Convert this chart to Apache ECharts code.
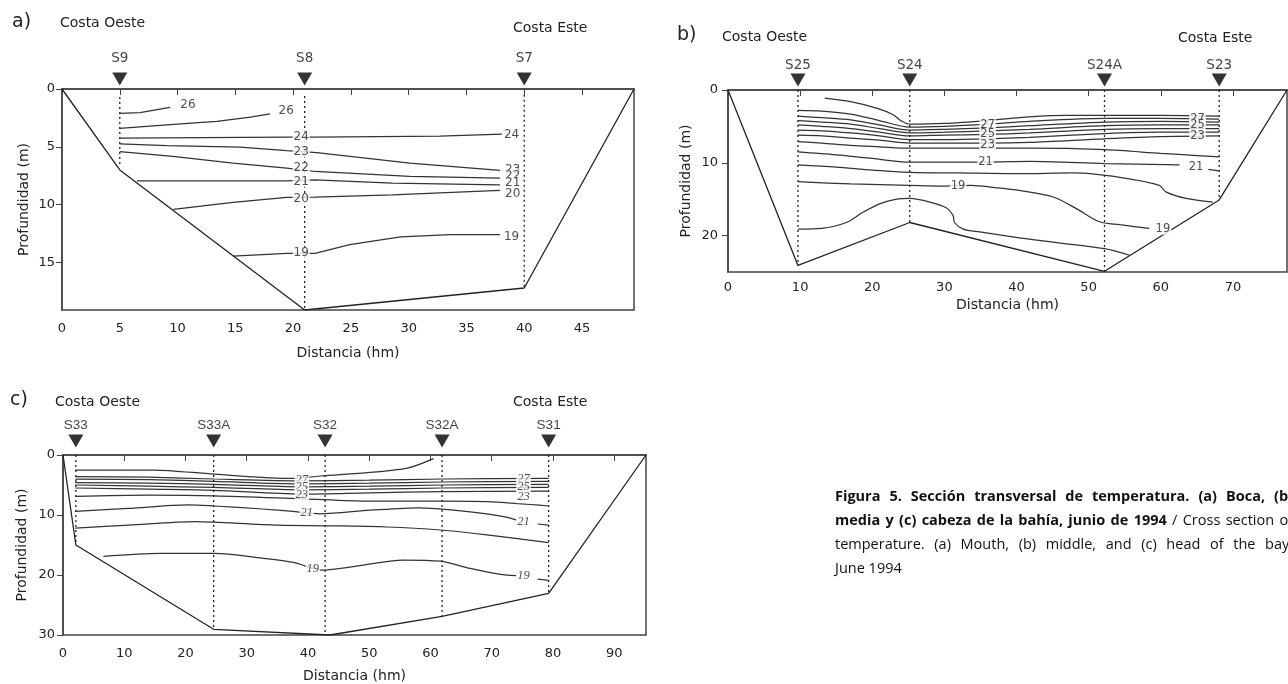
<!DOCTYPE html>
<html><head><meta charset="utf-8">
<script src="https://cdn.jsdelivr.net/npm/echarts@6/dist/echarts.min.js"></script>
<style>html,body{margin:0;padding:0;background:#fff}#c{width:1288px;height:684px}</style>
</head><body><div id="c"></div>
<script>
// ---------- Panel a (Boca) ----------
const aStations = ['S9', 'S8', 'S7'];
const aStationX = [5, 21, 40];
const aStationTop = [0.7, 0.6, 0.5];
const aStationBottom = [6.5, 19.1, 17.2];
const aBottom = [[0,0],[5,7.0],[21,19.1],[40,17.2],[49.5,0]];
const a26a = [[5,2.1],[6.75,2.05],[9.35,1.58]];
const a26b = [[5,3.4],[9.06,3.1],[13.4,2.8],[16.3,2.43],[18.0,2.14]];
const a24 = [[5,4.25],[19.45,4.17],[21.9,4.17],[32.7,4.07],[38.07,3.9]];
const a23 = [[5,4.74],[9.06,4.9],[15.4,5.03],[19.45,5.32],[22.05,5.49],[30.1,6.4],[37.9,7.04]];
const a22 = [[5,5.41],[9.6,5.83],[14.8,6.4],[19.45,6.84],[21.9,7.13],[30.1,7.56],[37.9,7.7]];
const a21 = [[6.47,7.93],[19.45,7.93],[21.9,7.85],[28.6,8.13],[37.9,8.28]];
const a20 = [[9.64,10.4],[14.8,9.8],[19.45,9.37],[21.9,9.34],[28.6,9.14],[37.9,8.77]];
const a19 = [[14.8,14.45],[19.45,14.2],[21.9,14.2],[24.9,13.45],[29.3,12.79],[33.6,12.59],[37.9,12.59]];
const aLabels = [[10.9,1.4,'26'],[19.4,1.85,'26'],[20.7,4.17,'24'],[20.7,5.41,'23'],[20.7,6.84,'22'],[20.7,7.99,'21'],[20.7,9.5,'20'],[20.7,14.17,'19'],
  [38.9,3.96,'24'],[39.0,7.0,'23'],[39.0,7.5,'22'],[39.0,8.1,'21'],[39.0,9.1,'20'],[38.9,12.79,'19']];

// ---------- Panel b (media) ----------
const bStations = ['S25', 'S24', 'S24A', 'S23'];
const bStationX = [9.7, 25.2, 52.2, 68.1];
const bStationBottom = [24.1, 18.2, 24.9, 15.1];
const bBottom = [[0,0],[9.7,24.1],[25.2,18.2],[52.2,24.9],[68.1,15.1],[77.5,0]];
const bTop = [[13.4,1.1],[17,1.6],[20.6,2.5],[22.9,3.4],[24.1,4.3],[25.2,4.7],[30,4.6],[36,4.2],[41.8,3.7],[47,3.5],[52.2,3.5],[60,3.5],[68.1,3.6]];
const b27 = [[9.7,2.8],[13,2.9],[17,3.3],[21,4.2],[25.2,5.1],[30,5.0],[36,4.7],[41.8,4.3],[52.2,3.9],[60,3.9],[68.1,4.0]];
const b26 = [[9.7,3.6],[13,3.8],[17,4.1],[21,4.8],[25.2,5.5],[30,5.4],[36,5.2],[41.8,4.9],[52.2,4.4],[60,4.3],[68.1,4.4]];
const b25 = [[9.7,4.2],[13,4.4],[17,4.7],[21,5.3],[25.2,5.9],[30,5.8],[36,5.6],[41.8,5.4],[52.2,4.9],[60,4.8],[68.1,4.8]];
const b24 = [[9.7,4.8],[13,5.0],[17,5.3],[21,5.8],[25.2,6.3],[30,6.2],[36,6.1],[41.8,5.9],[52.2,5.4],[60,5.3],[68.1,5.3]];
const b23 = [[9.7,5.5],[13,5.6],[17,5.9],[21,6.3],[25.2,6.8],[30,6.8],[36,6.7],[41.8,6.5],[52.2,6.0],[60,5.8],[68.1,5.8]];
const b22a = [[9.7,6.2],[13,6.3],[17,6.6],[21,6.9],[25.2,7.3],[30,7.3],[36,7.3],[41.8,7.2],[52.2,6.7],[60,6.4],[68.1,6.3]];
const b22 = [[9.7,7.1],[13,7.3],[17,7.6],[21,7.8],[25.2,8.0],[30,8.0],[36,8.0],[41.8,8.0],[52.2,8.2],[60,8.7],[65,9.0],[68.1,9.2]];
const b21 = [[9.7,8.5],[15,8.9],[20,9.4],[25.2,9.9],[30,9.9],[36,9.9],[41.8,9.8],[52.2,10.1],[62.6,10.3]];
const b21stub = [[66.6,10.9],[68.1,11.1]];
const b20 = [[9.7,10.3],[15,10.6],[20,11.0],[25.2,11.3],[32,11.4],[40.4,11.5],[47.8,11.4],[54.3,12.0],[59.8,13.1],[60.7,14.0],[63.5,14.9],[67.2,15.4]];
const b19 = [[9.7,12.6],[17,12.9],[25.2,13.1],[30,13.2],[33.7,13.1],[37,13.4],[40.4,13.8],[45.1,14.7],[48.3,16.3],[51.5,18.1],[54.3,18.5],[58.4,19.0]];
const b18 = [[9.7,19.1],[13,19.0],[16.4,18.2],[18.7,16.8],[21.1,15.6],[23.4,15.0],[25.2,14.9],[28,15.4],[30.3,16.2],[31.2,17.2],[31.4,18.2],[32.6,19.1],[34.9,19.5],[41.8,20.5],[52.2,21.8],[55.7,22.7]];
const bLabels = [[36.0,4.8,'27'],[36.0,6.1,'25'],[36.0,7.5,'23'],[35.7,9.9,'21'],[31.9,13.2,'19'],
  [65.1,4.0,'27'],[65.1,4.8,'25'],[65.1,6.3,'23'],[64.9,10.6,'21'],[60.3,19.1,'19']];

// ---------- Panel c (cabeza) ----------
const cStations = ['S33', 'S33A', 'S32', 'S32A', 'S31'];
const cStationX = [2.1, 24.6, 42.8, 61.9, 79.3];
const cStationBottom = [15, 29.05, 30, 26.9, 23.05];
const cBottom = [[0,0],[2.1,15],[24.6,29.05],[43.6,30],[61.9,26.9],[79.3,23.05],[95.2,0]];
const cTop = [[2,2.5],[14.8,2.5],[24.7,3.2],[37.6,3.9],[42,3.5],[50.2,2.9],[56.2,2.2],[60.5,0.6]];
const c27 = [[2,3.6],[14,3.7],[24.7,4.0],[39,4.3],[50,4.2],[62,4.0],[79.3,3.9]];
const c26 = [[2,4.0],[14,4.1],[24.7,4.4],[39,4.8],[50,4.7],[62,4.5],[79.3,4.4]];
const c25 = [[2,4.6],[14,4.7],[24.7,4.9],[39,5.3],[50,5.2],[62,5.0],[79.3,4.9]];
const c24 = [[2,5.0],[14,5.2],[24.7,5.4],[39,5.8],[50,5.7],[62,5.5],[79.3,5.4]];
const c23 = [[2,5.5],[14,5.7],[24.7,5.9],[39,6.5],[50,6.3],[62,6.1],[79.3,6.0]];
const c22 = [[2,6.9],[14,6.7],[24.7,6.8],[39,7.3],[50,7.7],[62,7.7],[70,7.8],[79.3,8.5]];
const c21 = [[2,9.4],[10.7,8.9],[20.5,8.3],[24.7,8.5],[32.5,9.0],[37.6,9.4],[42,9.8],[50.2,9.2],[58.3,8.8],[63.8,9.2],[69.2,9.8],[72.2,10.3],[74,10.8]];
const c21stub = [[77.5,11.5],[79.3,11.7]];
const c20 = [[2,12.2],[10.7,11.7],[21.6,11.1],[24.7,11.2],[35.2,11.7],[43.1,11.8],[52.9,12.0],[61.6,12.5],[69.2,13.3],[79.3,14.6]];
const c19 = [[6.6,16.9],[15.9,16.4],[24.7,16.4],[32.5,17.2],[37.6,17.9],[40.8,18.9],[42,19.2],[47.4,18.6],[55.6,17.5],[61.6,17.7],[66.5,18.9],[71.4,19.9],[74,20.1]];
const c19stub = [[77.5,20.7],[79.3,20.9]];
const cLabels = [[39,4.2,'27'],[39,5.3,'25'],[39,6.7,'23'],[39.8,9.7,'21'],[40.8,18.9,'19'],
  [75.2,3.9,'27'],[75.2,5.3,'25'],[75.2,7.0,'23'],[75.2,11.1,'21'],[75.2,20.1,'19']];

// ---------- Axis ranges ----------
const xMax = [49.5, 77.5, 95.2];
const yMax = [19.1, 25, 30];
const xStep = [5, 10, 10];
const yStep = [5, 10, 10];

// ---------- Caption ----------
const capBold1 = ['Figura', '5.', 'Sección', 'transversal', 'de', 'temperatura.', '(a)', 'Boca,', '(b)'];
const capBold2 = ['media', 'y', '(c)', 'cabeza', 'de', 'la', 'bahía,', 'junio', 'de', '1994'];
const capNorm2 = ['/', 'Cross', 'section', 'of'];
const capNorm3 = ['temperature.', '(a)', 'Mouth,', '(b)', 'middle,', 'and', '(c)', 'head', 'of', 'the', 'bay,'];
const capNorm4 = ['June', '1994'];

const SANS = 'DejaVu Sans';
const series = [];
function contour(data, i, smooth) {
  series.push({type:'line', xAxisIndex:i, yAxisIndex:i, data:data, symbol:'none', smooth:smooth||0,
    lineStyle:{color:'#333', width:1.25}, z:2, silent:true});
}
function profile(data, i) {
  series.push({type:'line', xAxisIndex:i, yAxisIndex:i, data:data, symbol:'none',
    lineStyle:{color:'#222', width:1.3}, z:3, silent:true});
}
function stations(names, xs, tops, bottoms, i, off, dist, font) {
  names.forEach(function(n, k){
    series.push({type:'line', xAxisIndex:i, yAxisIndex:i, data:[[xs[k], tops ? tops[k] : 0],[xs[k], bottoms[k]]],
      symbol:'none', lineStyle:{color:'#222', width:1.3, type:[2,3]}, z:4, silent:true});
  });
  series.push({type:'scatter', xAxisIndex:i, yAxisIndex:i, clip:false, z:6, silent:true,
    data: names.map(function(n,k){ return [xs[k], 0, n]; }),
    symbol:'path://M0,0 L14,0 L7,12 Z', symbolSize:[15,13], symbolOffset:[0, off],
    itemStyle:{color:'#000'},
    label:{show:true, position:'top', distance:dist, formatter:function(p){return p.data[2];},
      fontFamily:font, fontSize:13.5, color:'#111'}});
}
function labels(data, i, font, size, italicSet) {
  series.push({type:'scatter', xAxisIndex:i, yAxisIndex:i, clip:false, z:5, silent:true,
    data:data.map(function(d){ return {value:d, label:{fontStyle: (italicSet && italicSet.indexOf(d[2])>=0) ? 'italic':'normal'}}; }),
    symbolSize:0,
    label:{show:true, position:'inside', formatter:function(p){return p.value[2];},
      fontFamily:font, fontSize:size, color:'#222', backgroundColor:'#fff', padding:[0,1], lineHeight:size}});
}

// panel a
profile(aBottom, 0);
[a26a,a26b,a24,a23,a22,a21,a20,a19].forEach(function(d){ contour(d,0,0); });
stations(aStations, aStationX, aStationTop, aStationBottom, 0, -10, 7, SANS);
labels(aLabels, 0, SANS, 12);
// panel b
profile(bBottom, 1);
[bTop,b27,b26,b25,b24,b23,b22a,b22,b21,b21stub,b20,b19,b18].forEach(function(d){ contour(d,1,0.3); });
stations(bStations, bStationX, null, bStationBottom, 1, -10, 1, SANS);
labels(bLabels, 1, SANS, 11.5);
// panel c
profile(cBottom, 2);
[cTop,c27,c26,c25,c24,c23,c22,c21,c21stub,c20,c19,c19stub].forEach(function(d){ contour(d,2,0.3); });
stations(cStations, cStationX, null, cStationBottom, 2, -14, 2, 'Liberation Sans');
labels(cLabels, 2, 'Liberation Serif', 12.5, ['27','25','23','21','19']);

const grids = [
  {left:62, top:89, width:572, height:221},
  {left:728, top:90, width:559, height:182},
  {left:63, top:455, width:583, height:180}
].map(function(g){ return Object.assign({show:true, borderColor:'#444', borderWidth:1.5, backgroundColor:'#fff'}, g); });

const xNameGap = [36, 26, 34], xMargin = [12, 9, 12];
const yNameGap = [31, 35, 34], yMargin = [7, 10, 8];
const xAxes = [0,1,2].map(function(i){ return {
  type:'value', gridIndex:i, min:0, max:xMax[i], interval:xStep[i],
  name:'Distancia (hm)', nameLocation:'middle', nameGap:xNameGap[i],
  nameTextStyle:{fontFamily:SANS, fontSize:14, color:'#222'},
  axisLine:{show:true, lineStyle:{color:'#444', width:1.5}},
  axisTick:{show:true, length:6, lineStyle:{color:'#444'}},
  axisLabel:{fontFamily:SANS, fontSize:13, color:'#222', margin:xMargin[i], showMaxLabel:false},
  splitLine:{show:false}
}; });
const yAxes = [0,1,2].map(function(i){ return {
  type:'value', gridIndex:i, min:0, max:yMax[i], interval:yStep[i], inverse:true,
  name:'Profundidad (m)', nameLocation:'middle', nameGap:yNameGap[i],
  nameTextStyle:{fontFamily:SANS, fontSize:14, color:'#222'},
  axisLine:{show:true, lineStyle:{color:'#444', width:1.5}},
  axisTick:{show:true, length:6, lineStyle:{color:'#444'}},
  axisLabel:{fontFamily:SANS, fontSize:13, color:'#222', margin:yMargin[i], showMaxLabel: i===2},
  splitLine:{show:false}
}; });

function txt(x, y, t, size, extra) {
  return {type:'text', x:x, y:y, style:Object.assign({text:t, font: size+'px "DejaVu Sans"', fill:'#222', textVerticalAlign:'middle'}, extra||{})};
}
const graphic = [
  txt(12, 22, 'a)', 19), txt(60, 23, 'Costa Oeste', 14), txt(513, 28, 'Costa Este', 14),
  txt(677, 35, 'b)', 19), txt(722, 37, 'Costa Oeste', 14), txt(1178, 38, 'Costa Este', 14),
  txt(10, 400, 'c)', 19), txt(55, 402, 'Costa Oeste', 14), txt(513, 402, 'Costa Este', 14)
];

// justified caption layout (words spread across the text block width)
const CAP_FONT = 14.5, CAP_X = 835, CAP_W = 458;
const mctx = document.createElement('canvas').getContext('2d');
function fontStr(bold){ return (bold ? 'bold ' : '') + CAP_FONT + 'px "Open Sans"'; }
function capLine(words, y, justify) {
  const ws = words.map(function(w){ mctx.font = fontStr(w.b); return mctx.measureText(w.t).width; });
  const total = ws.reduce(function(s,v){ return s+v; }, 0);
  mctx.font = fontStr(false);
  const gap = justify ? (CAP_W - total) / (words.length - 1) : mctx.measureText(' ').width;
  let x = CAP_X;
  words.forEach(function(w, k){
    graphic.push({type:'text', x:x, y:y, style:{text:w.t, font:fontStr(w.b), fill:'#111', textVerticalAlign:'middle'}});
    x += ws[k] + gap;
  });
}
function tag(arr, b){ return arr.map(function(t){ return {t:t, b:b}; }); }
capLine(tag(capBold1, true), 497, true);
capLine(tag(capBold2, true).concat(tag(capNorm2, false)), 521, true);
capLine(tag(capNorm3, false), 545, true);
capLine(tag(capNorm4, false), 569, false);

const chart = echarts.init(document.getElementById('c'), null, {renderer:'canvas'});
chart.setOption({animation:false, backgroundColor:'#fff', grid:grids, xAxis:xAxes, yAxis:yAxes, series:series, graphic:graphic});
</script></body></html>
